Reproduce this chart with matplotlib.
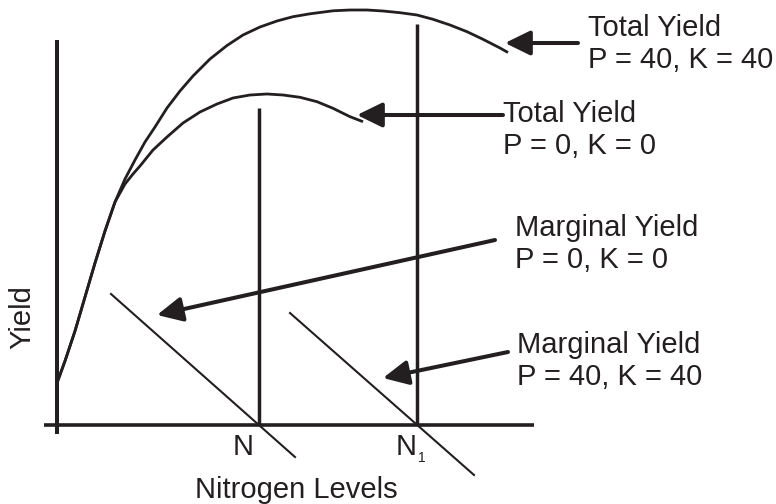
"""
Yield response to nitrogen at two P/K levels (schematic).
Total and marginal yield curves with the optimum N rates marked.
"""

import matplotlib
matplotlib.use("Agg")
import matplotlib.pyplot as plt

###############################################################################
# Data (x = nitrogen level, y = yield, arbitrary units)

# Total yield, P = 40, K = 40
total_pk40_x = [0, 8, 18, 28, 38, 48, 58, 68, 78, 88, 98, 110, 123, 136, 153,
                170, 186, 203, 220, 236, 253, 276, 293, 310, 326, 343, 360,
                376, 393, 410, 426, 443, 451]
total_pk40_y = [42, 64, 94, 128, 162, 194, 223, 246, 265, 283, 298, 317, 334,
                349, 366, 379.5, 390, 398, 404, 408.3, 411.2, 414.2, 415, 415,
                414, 412.3, 410, 405.7, 400, 393.3, 385.7, 377, 372.5]

# Total yield, P = 0, K = 0
total_pk0_x = [0, 8, 18, 28, 38, 48, 58, 68, 76, 83, 96, 110, 126, 143, 160,
               176, 193, 210, 226, 243, 260, 276, 293, 306]
total_pk0_y = [42, 64, 94, 128, 162, 194, 223, 241, 251, 259, 275, 288, 302,
               313, 321, 327, 330, 331, 330, 327.7, 323.3, 316.7, 308.3, 303.3]

# Marginal yield lines (start, end)
marginal_pk0_x = [54, 238]
marginal_pk0_y = [131, -32]
marginal_pk40_x = [233, 417]
marginal_pk40_y = [112, -50]

# Optimum nitrogen rates and the height of their markers
n_opt = [202, 360]
n_top = [317, 401]

# Callouts: text, anchor (last baseline), arrow tail, arrow tip
labels = ["Total Yield\nP = 40, K = 40", "Total Yield\nP = 0, K = 0",
          "Marginal Yield\nP = 0, K = 0", "Marginal Yield\nP = 40, K = 40"]
label_pos = [(531, 357), (446, 271), (458, 157), (460, 40)]
arrow_tail = [(521, 382), (446, 310), (438, 185), (451, 73)]
arrow_tip = [(448, 382), (300, 310), (100, 110), (326, 47)]

###############################################################################
# Plot

ink = "#231f20"
fs = 21
plt.rcParams["font.family"] = ["Liberation Sans", "DejaVu Sans"]

fig = plt.figure(figsize=(7.76, 5.04), dpi=100)
ax = fig.add_axes([0, 0, 1, 1])
ax.set_xlim(-57, 719)
ax.set_ylim(-79, 425)
ax.axis("off")

# Axes drawn by hand (with the small tick below the origin)
ax.plot([0, 0], [-9, 385], color=ink, lw=2.9, solid_capstyle="butt")
ax.plot([-13, 477], [0, 0], color=ink, lw=2.6, solid_capstyle="butt")

# Total yield curves
for xs, ys in [(total_pk40_x, total_pk40_y), (total_pk0_x, total_pk0_y)]:
    ax.plot(xs, ys, color=ink, lw=2.0, solid_capstyle="butt",
            solid_joinstyle="round")

# Marginal yield lines
ax.plot(marginal_pk0_x, marginal_pk0_y, color=ink, lw=1.5)
ax.plot(marginal_pk40_x, marginal_pk40_y, color=ink, lw=1.5)

# Optimum N markers
for x, top in zip(n_opt, n_top):
    ax.plot([x, x], [0, top], color=ink, lw=2.5, solid_capstyle="butt")

ax.text(n_opt[0] - 16, -30, "N", fontsize=fs, color=ink,
        ha="center", va="baseline")
ax.text(n_opt[1] - 10.5, -30, "N", fontsize=fs, color=ink,
        ha="center", va="baseline")
ax.text(n_opt[1] + 1, -37, "1", fontsize=10, color=ink,
        ha="left", va="baseline")

# Callout labels and arrows
for text, pos, tail, tip in zip(labels, label_pos, arrow_tail, arrow_tip):
    ax.text(pos[0], pos[1], text, fontsize=fs, color=ink,
            ha="left", va="baseline", linespacing=1.2)
    ax.annotate("", xy=tip, xytext=tail,
                arrowprops=dict(arrowstyle="-|>,head_length=0.45,head_width=0.22",
                                mutation_scale=34, lw=2.9, color=ink,
                                shrinkA=0, shrinkB=0))

# Axis titles
ax.text(239, -73, "Nitrogen Levels", fontsize=fs, color=ink,
        ha="center", va="baseline")
ax.text(-35, 108, "Yield", fontsize=fs, color=ink, rotation=90,
        ha="center", va="center")

fig.savefig("out.png", dpi=100)
